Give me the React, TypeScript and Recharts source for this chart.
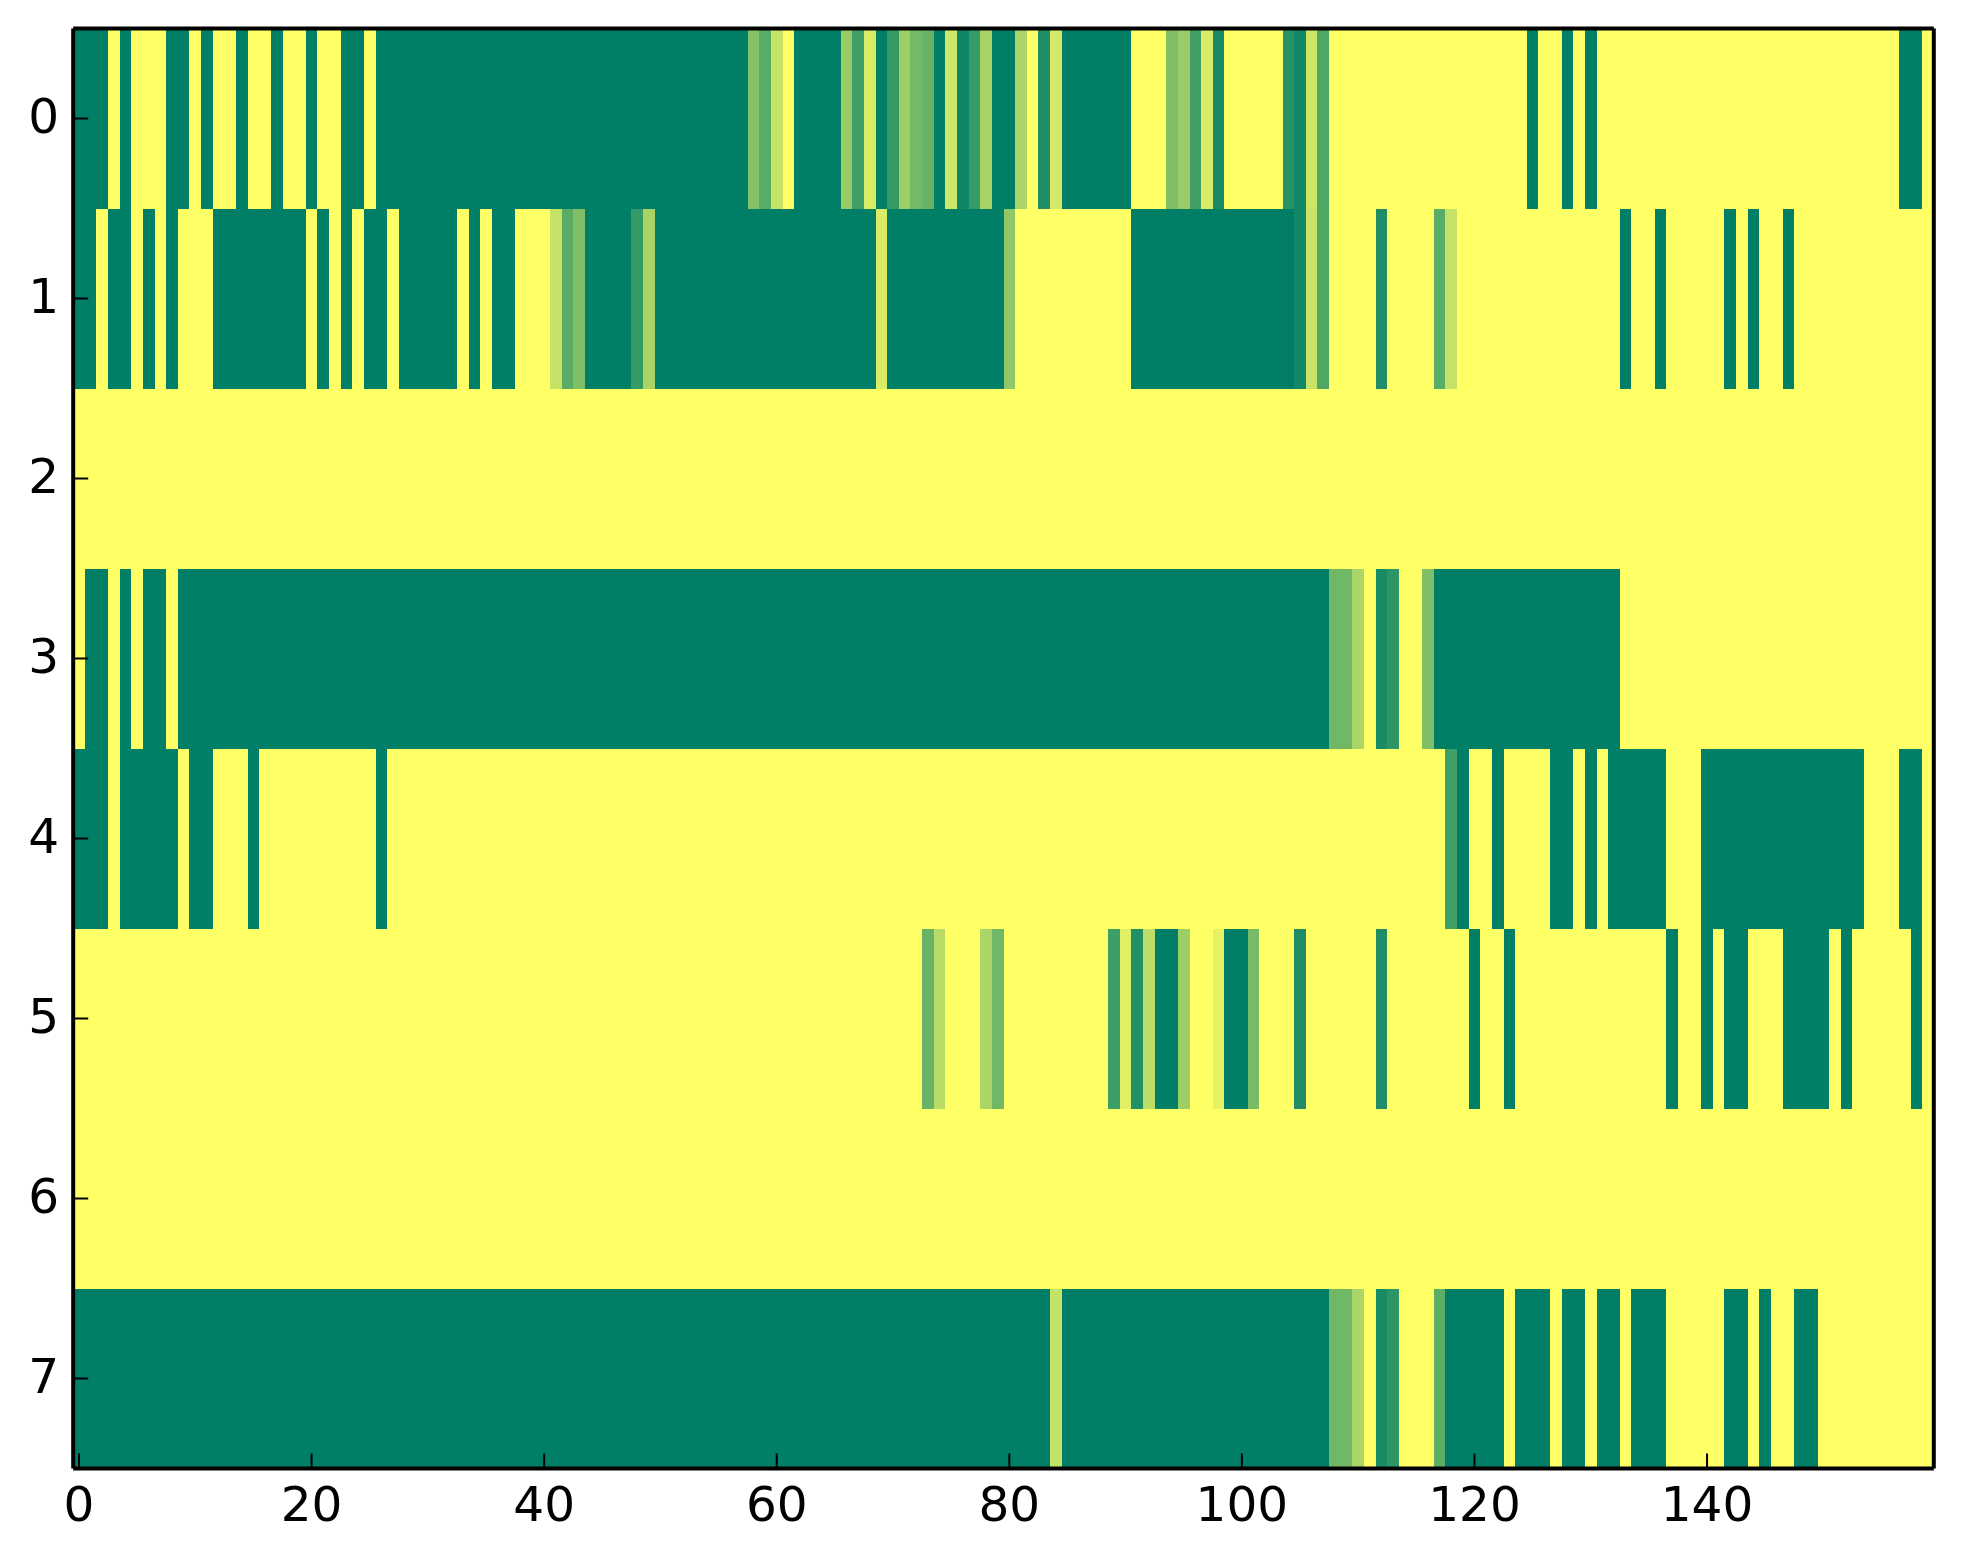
import React from 'react';
import { BarChart, Bar, XAxis, YAxis, Cell } from 'recharts';

const rowLabels = [0, 1, 2, 3, 4, 5, 6, 7];
const xTicks = [0, 20, 40, 60, 80, 100, 120, 140];
const columnCount = 160;

const row0 = [
  1,1,1,0,1,0,0,0,1,1,
  0,1,0,0,1,0,0,1,0,0,
  1,0,0,1,1,0,1,1,1,1,
  1,1,1,1,1,1,1,1,1,1,
  1,1,1,1,1,1,1,1,1,1,
  1,1,1,1,1,1,1,1,.48,.65,
  .22,0,1,1,1,1,.4,.75,.15,1,
  .79,.38,.55,.59,1,.19,.94,.79,.35,1,
  1,.33,0,.88,.17,1,1,1,1,1,
  1,0,0,0,.5,.4,.74,.15,.9,0,
  0,0,0,0,.85,.93,.2,.69,0,0,
  0,0,0,0,0,0,0,0,0,0,
  0,0,0,0,0,1,0,0,1,0,
  1,0,0,0,0,0,0,0,0,0,
  0,0,0,0,0,0,0,0,0,0,
  0,0,0,0,0,0,0,1,1,0,
];
const row1 = [
  1,1,0,1,1,0,1,0,1,0,
  0,0,1,1,1,1,1,1,1,1,
  0,1,0,1,0,1,1,0,1,1,
  1,1,1,0,1,0,1,1,0,0,
  0,.23,.65,.51,1,1,1,1,.79,.34,
  1,1,1,1,1,1,1,1,1,1,
  1,1,1,1,1,1,1,1,1,.15,
  1,1,1,1,1,1,1,1,1,1,
  .44,0,0,0,0,0,0,0,0,0,
  0,1,1,1,1,1,1,1,1,1,
  1,1,1,1,1,.93,.22,.69,0,0,
  0,0,.88,0,0,0,0,.65,.23,0,
  0,0,0,0,0,0,0,0,0,0,
  0,0,0,1,0,0,1,0,0,0,
  0,0,1,0,1,0,0,1,0,0,
  0,0,0,0,0,0,0,0,0,0,
];
const row2 = [
  0,0,0,0,0,0,0,0,0,0, 0,0,0,0,0,0,0,0,0,0,
  0,0,0,0,0,0,0,0,0,0, 0,0,0,0,0,0,0,0,0,0,
  0,0,0,0,0,0,0,0,0,0, 0,0,0,0,0,0,0,0,0,0,
  0,0,0,0,0,0,0,0,0,0, 0,0,0,0,0,0,0,0,0,0,
  0,0,0,0,0,0,0,0,0,0, 0,0,0,0,0,0,0,0,0,0,
  0,0,0,0,0,0,0,0,0,0, 0,0,0,0,0,0,0,0,0,0,
  0,0,0,0,0,0,0,0,0,0, 0,0,0,0,0,0,0,0,0,0,
  0,0,0,0,0,0,0,0,0,0, 0,0,0,0,0,0,0,0,0,0,
];
const row3 = [
  0,1,1,0,1,0,1,1,0,1,
  1,1,1,1,1,1,1,1,1,1,
  1,1,1,1,1,1,1,1,1,1,
  1,1,1,1,1,1,1,1,1,1,
  1,1,1,1,1,1,1,1,1,1,
  1,1,1,1,1,1,1,1,1,1,
  1,1,1,1,1,1,1,1,1,1,
  1,1,1,1,1,1,1,1,1,1,
  1,1,1,1,1,1,1,1,1,1,
  1,1,1,1,1,1,1,1,1,1,
  1,1,1,1,1,1,1,1,.56,.56,
  .33,0,.9,.82,0,0,.5,1,1,1,
  1,1,1,1,1,1,1,1,1,1,
  1,1,1,0,0,0,0,0,0,0,
  0,0,0,0,0,0,0,0,0,0,
  0,0,0,0,0,0,0,0,0,0,
];
const row4 = [
  1,1,1,0,1,1,1,1,1,0,
  1,1,0,0,0,1,0,0,0,0,
  0,0,0,0,0,0,1,0,0,0,
  0,0,0,0,0,0,0,0,0,0,
  0,0,0,0,0,0,0,0,0,0,
  0,0,0,0,0,0,0,0,0,0,
  0,0,0,0,0,0,0,0,0,0,
  0,0,0,0,0,0,0,0,0,0,
  0,0,0,0,0,0,0,0,0,0,
  0,0,0,0,0,0,0,0,0,0,
  0,0,0,0,0,0,0,0,0,0,
  0,0,0,0,0,0,0,0,.75,1,
  0,0,1,0,0,0,0,1,1,0,
  1,0,1,1,1,1,1,0,0,0,
  1,1,1,1,1,1,1,1,1,1,
  1,1,1,1,0,0,0,1,1,0,
];
const row5 = [
  0,0,0,0,0,0,0,0,0,0,
  0,0,0,0,0,0,0,0,0,0,
  0,0,0,0,0,0,0,0,0,0,
  0,0,0,0,0,0,0,0,0,0,
  0,0,0,0,0,0,0,0,0,0,
  0,0,0,0,0,0,0,0,0,0,
  0,0,0,0,0,0,0,0,0,0,
  0,0,0,.59,.28,0,0,0,.33,.56,
  0,0,0,0,0,0,0,0,0,.76,
  .12,.87,.26,1,1,.38,0,0,.1,1,
  1,.53,0,0,0,.88,0,0,0,0,
  0,0,.88,0,0,0,0,0,0,0,
  1,0,0,1,0,0,0,0,0,0,
  0,0,0,0,0,0,0,1,0,0,
  1,0,1,1,0,0,0,1,1,1,
  1,0,1,0,0,0,0,0,1,0,
];
const row6 = [
  0,0,0,0,0,0,0,0,0,0, 0,0,0,0,0,0,0,0,0,0,
  0,0,0,0,0,0,0,0,0,0, 0,0,0,0,0,0,0,0,0,0,
  0,0,0,0,0,0,0,0,0,0, 0,0,0,0,0,0,0,0,0,0,
  0,0,0,0,0,0,0,0,0,0, 0,0,0,0,0,0,0,0,0,0,
  0,0,0,0,0,0,0,0,0,0, 0,0,0,0,0,0,0,0,0,0,
  0,0,0,0,0,0,0,0,0,0, 0,0,0,0,0,0,0,0,0,0,
  0,0,0,0,0,0,0,0,0,0, 0,0,0,0,0,0,0,0,0,0,
  0,0,0,0,0,0,0,0,0,0, 0,0,0,0,0,0,0,0,0,0,
];
const row7 = [
  1,1,1,1,1,1,1,1,1,1,
  1,1,1,1,1,1,1,1,1,1,
  1,1,1,1,1,1,1,1,1,1,
  1,1,1,1,1,1,1,1,1,1,
  1,1,1,1,1,1,1,1,1,1,
  1,1,1,1,1,1,1,1,1,1,
  1,1,1,1,1,1,1,1,1,1,
  1,1,1,1,1,1,1,1,1,1,
  1,1,1,1,.23,1,1,1,1,1,
  1,1,1,1,1,1,1,1,1,1,
  1,1,1,1,1,1,1,1,.56,.56,
  .33,0,.9,.82,0,0,0,.64,1,1,
  1,1,1,0,1,1,1,0,1,1,
  0,1,1,0,1,1,1,0,0,0,
  0,0,1,1,0,1,0,0,1,1,
  0,0,0,0,0,0,0,0,0,0,
];

const rows = [row0, row1, row2, row3, row4, row5, row6, row7];

// summer_r colormap: 0 -> #ffff66, 1 -> #007f66
const summerR = (v: number) =>
  `rgb(${Math.round(255 * (1 - v))},${Math.round(255 - 128 * v)},102)`;

const columns = Array.from({ length: columnCount }, (_, i) => i);

// every cell is one unit wide, centred on its column number, so the stack starts half a unit left of 0
const data = rowLabels.map((label) => {
  const rec: Record<string, number> = { row: label, start: -0.5 };
  columns.forEach((c) => {
    rec[`c${c}`] = 1;
  });
  return rec;
});

const CrispRect = (props: any) => (
  <rect
    x={props.x}
    y={props.y}
    width={props.width}
    height={props.height}
    fill={props.fill}
    shapeRendering="crispEdges"
  />
);

const axisLine = { stroke: '#000', strokeWidth: 4 };
const tickLine = { stroke: '#000', strokeWidth: 2 };
const tickFont = { fontFamily: '"DejaVu Sans"', fontSize: 48.5, fill: '#000' };

export default function App() {
  return (
    <div style={{ position: 'absolute', left: 0, top: 0, width: 1963, height: 1564, background: '#fff' }}>
      <BarChart
        width={1963}
        height={1564}
        data={data}
        layout="vertical"
        barCategoryGap={0}
        barGap={0}
        stackOffset="none"
        margin={{ top: 0, right: 0, bottom: 0, left: 0 }}
      >
        <XAxis
          xAxisId="bottom"
          type="number"
          orientation="bottom"
          domain={[-0.5, 159.5]}
          allowDataOverflow
          ticks={xTicks}
          interval={0}
          height={95.5}
          tickSize={-15}
          tickMargin={33}
          axisLine={axisLine}
          tickLine={tickLine}
          tick={tickFont}
        />
        <XAxis
          xAxisId="top"
          type="number"
          orientation="top"
          domain={[-0.5, 159.5]}
          allowDataOverflow
          ticks={xTicks}
          interval={0}
          height={28.5}
          tickSize={-15}
          axisLine={axisLine}
          tickLine={tickLine}
          tick={false}
        />
        <YAxis
          yAxisId="left"
          type="category"
          dataKey="row"
          orientation="left"
          width={73.2}
          interval={0}
          tickSize={-15}
          tickMargin={29}
          axisLine={axisLine}
          tickLine={tickLine}
          tick={{ ...tickFont, dy: -3 }}
        />
        <YAxis
          yAxisId="right"
          type="category"
          dataKey="row"
          orientation="right"
          width={29.2}
          interval={0}
          tickSize={-15}
          axisLine={axisLine}
          tickLine={tickLine}
          tick={false}
        />
        <Bar
          dataKey="start"
          stackId="heat"
          xAxisId="bottom"
          yAxisId="left"
          fill="none"
          isAnimationActive={false}
        />
        {columns.map((c) => (
          <Bar
            key={c}
            dataKey={`c${c}`}
            stackId="heat"
            xAxisId="bottom"
            yAxisId="left"
            isAnimationActive={false}
            shape={CrispRect}
          >
            {rows.map((row, r) => (
              <Cell key={r} fill={summerR(row[c])} />
            ))}
          </Bar>
        ))}
      </BarChart>
    </div>
  );
}
